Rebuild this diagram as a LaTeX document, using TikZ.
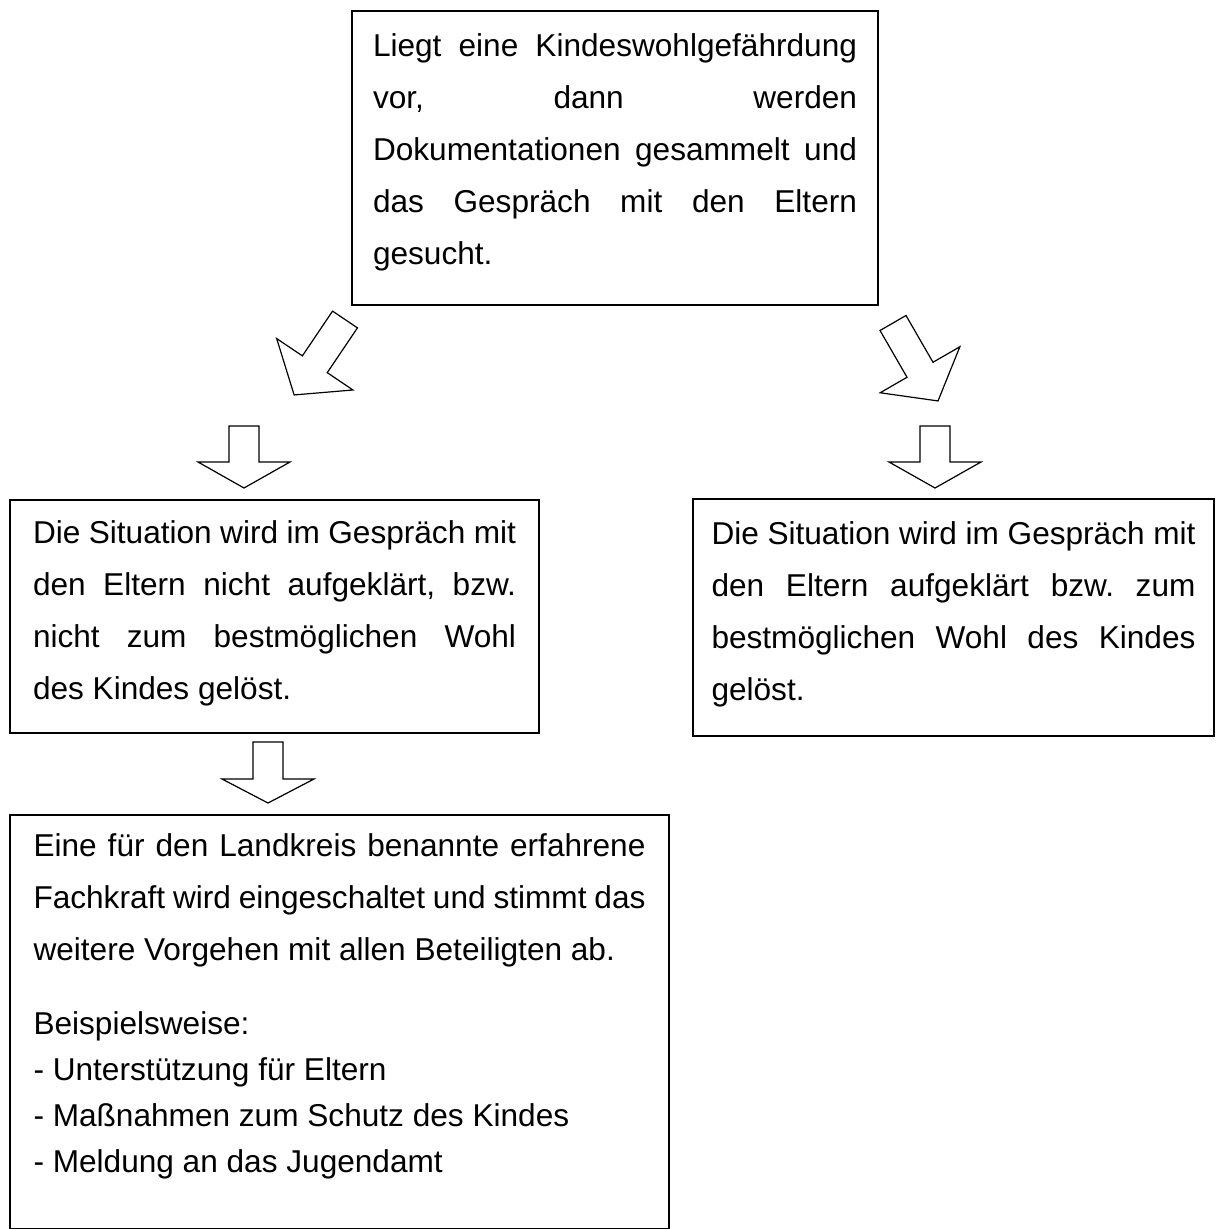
\documentclass[tikz,border=0pt]{standalone}
\usepackage{fontspec}
\setmainfont{Liberation Sans}
\usepackage{tikz}

\newcommand{\lift}[1]{\par\vspace{#1}\nointerlineskip\hbox{}}

\begin{document}
\begin{tikzpicture}[x=0.5pt, y=-0.5pt,
    box/.style={draw, line width=1pt, anchor=north west, inner xsep=11pt, inner ysep=0pt,
        align=justify, font=\fontsize{15.8}{26}\selectfont\frenchspacing},
    blockarrow/.style={draw, line width=0.6pt, line join=miter}]
    % block arrow: x, y, angle, shaft length, head length
    \def\blockArrow#1#2#3#4#5{\draw[blockarrow, shift={(#1,#2)}, rotate=#3]
        (0,15) -- (#4,15) -- (#4,46) -- (#4+#5,0) -- (#4,-46) -- (#4,-15) -- (0,-15) -- cycle;}
    \tolerance=9999 \hbadness=10000
    \useasboundingbox (0,0) rectangle (1215,1229);

    \node[box, inner xsep=10.5pt, text width=242pt, minimum height=147pt] (start) at (351,10)
        {Liegt eine Kindeswohlgefährdung\linebreak vor, dann werden\linebreak
         Dokumentationen gesammelt und\linebreak das Gespräch mit den Eltern\linebreak gesucht.\lift{6pt}};

    \node[box, inner xsep=11.5pt, text width=241.5pt, minimum height=116.5pt] (open) at (9,499)
        {Die Situation wird im Gespräch mit\linebreak den Eltern nicht aufgeklärt, bzw.\linebreak
         nicht zum bestmöglichen Wohl\linebreak des Kindes gelöst.\lift{3pt}};

    \node[box, inner xsep=9.25pt, text width=242pt, minimum height=118.5pt] (solved) at (692,498)
        {Die Situation wird im Gespräch mit\linebreak den Eltern aufgeklärt bzw. zum\linebreak
         bestmöglichen Wohl des Kindes\linebreak gelöst.\lift{3pt}};

    \node[box, inner xsep=11.75pt, text width=306pt, minimum height=207pt] (expert) at (9,814)
        {Eine für den Landkreis benannte erfahrene\linebreak Fachkraft wird eingeschaltet und stimmt das\linebreak
         weitere Vorgehen mit allen Beteiligten ab.\par\vspace{11pt}
         Beispielsweise:\\[-3pt]
         - Unterstützung für Eltern\\[-3pt]
         - Maßnahmen zum Schutz des Kindes\\[-3pt]
         - Meldung an das Jugendamt\lift{16pt}};

    \blockArrow{345}{319.5}{-124}{54}{37}
    \blockArrow{893}{323}{-60}{54}{36}
    \blockArrow{244}{426}{-90}{36}{26}
    \blockArrow{935}{426}{-90}{36}{26}
    \blockArrow{268}{742}{-90}{37}{24}
\end{tikzpicture}
\end{document}
